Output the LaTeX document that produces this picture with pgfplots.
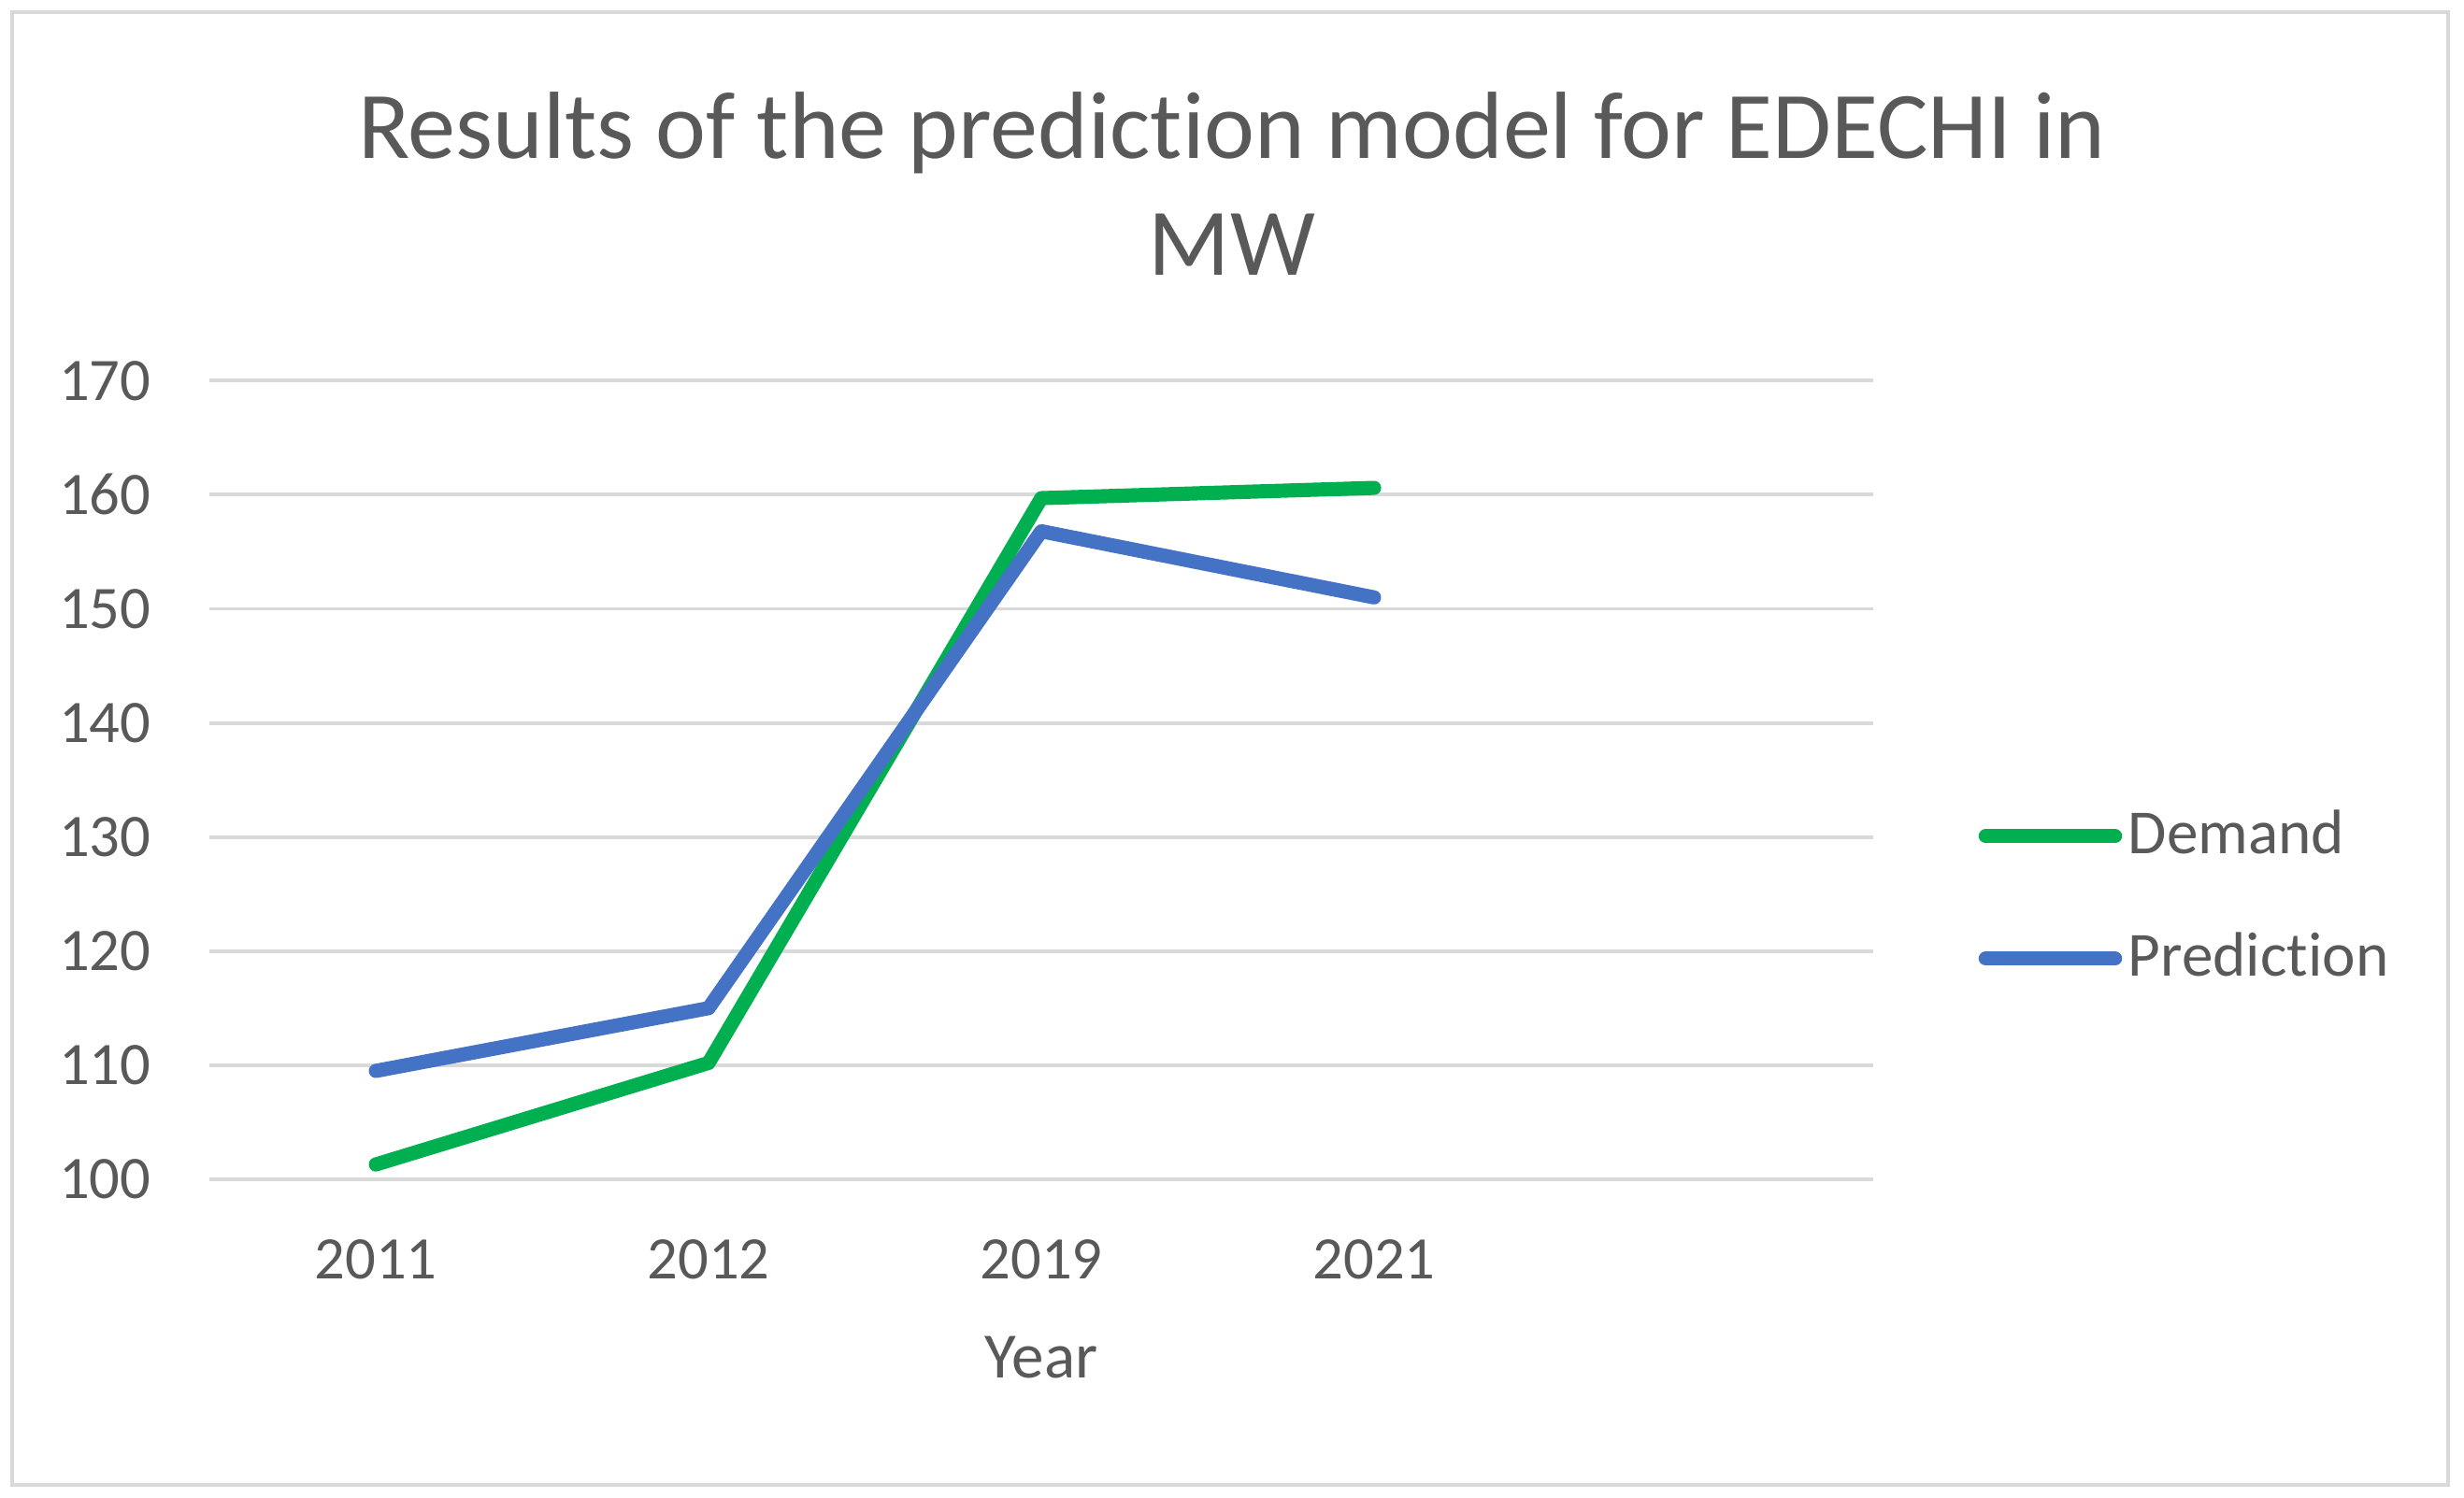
\documentclass[border=0pt]{standalone}
\usepackage{fontspec}
\setmainfont{Carlito}[Ligatures=NoCommon]
\usepackage{pgfplots}
\pgfplotsset{compat=1.18}
\definecolor{txt}{HTML}{595959}
\definecolor{gridc}{HTML}{D9D9D9}
\definecolor{dem}{HTML}{00B050}
\definecolor{pred}{HTML}{4472C4}
\begin{document}
\begin{tikzpicture}
\path (-34pt,-51.7pt) rectangle (366pt,191.5pt);
\draw[gridc, line width=0.6pt] (-32pt,-49.6pt) rectangle (363.4pt,189.5pt);
\begin{axis}[
  at={(0,0)}, anchor=south west,
  scale only axis, width=270.1pt, height=129.7pt,
  xmin=-0.5, xmax=4.5, ymin=100, ymax=170,
  xtick={0,1,2,3}, xticklabels={2011,2012,2019,2021},
  ytick={100,110,...,170},
  major tick length=0pt,
  axis line style={draw=none},
  xmajorgrids=false, ymajorgrids=true,
  major grid style={draw=gridc, line width=0.6pt},
  /pgf/number format/assume math mode=true,
  ticklabel style={font=\fontsize{9.8}{11}\selectfont, text=txt},
  yticklabel style={anchor=east, inner sep=0pt, xshift=-9.3pt},
  xticklabel style={anchor=base, inner sep=0pt, yshift=-16.1pt},
  xlabel={Year},
  xlabel style={at={(axis description cs:0.5,0)}, anchor=base, inner sep=0pt, yshift=-32.3pt, font=\fontsize{10.5}{12}\selectfont, text=txt},
  clip=false,
  legend style={at={(1.0626,0.3530)}, anchor=west, draw=none, fill=none, inner sep=0pt,
    font=\fontsize{10.2}{12}\selectfont, text=txt, row sep=9.3pt,
    nodes={inner sep=1pt}},
  legend cell align=left,
  legend image code/.code={\draw[#1, line cap=round] (0pt,0pt) -- (21pt,0pt);},
]
\addplot[dem, line width=2.3pt, line cap=round, line join=round] coordinates {(0,101.3) (1,110.2) (2,159.7) (3,160.6)};
\addlegendentry{Demand}
\addplot[pred, line width=2.3pt, line cap=round, line join=round] coordinates {(0,109.5) (1,115.0) (2,156.8) (3,151.0)};
\addlegendentry{Prediction}
\end{axis}
\node[align=center, text=txt, font=\fontsize{15.5}{18.9}\selectfont] at (166pt,161.7pt) {Results of the prediction model for EDECHI in\\MW};
\end{tikzpicture}
\end{document}
